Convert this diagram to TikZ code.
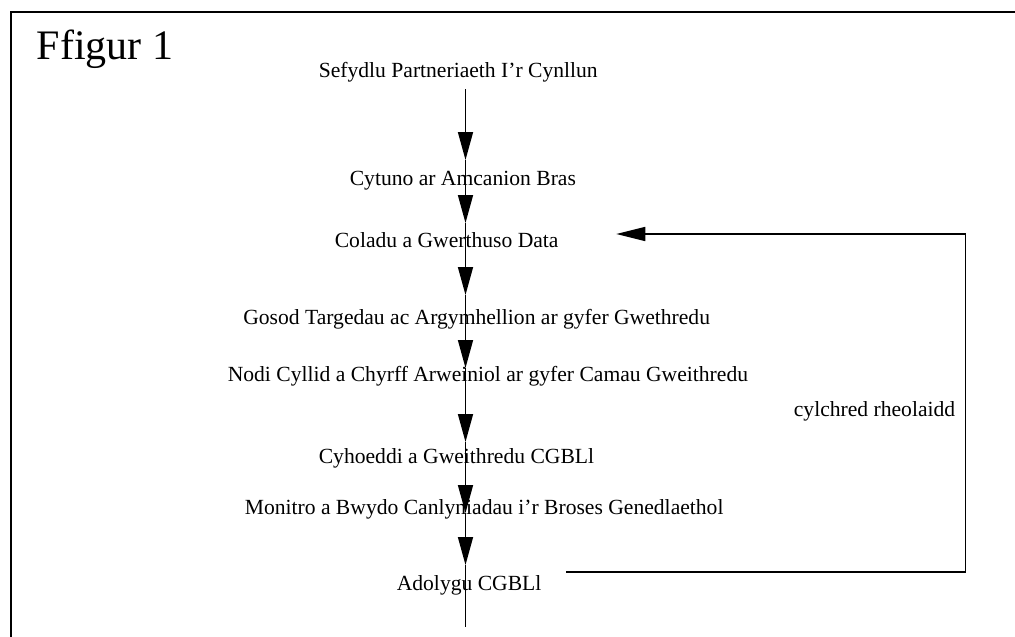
\documentclass[tikz,border=0pt]{standalone}
\usepackage{fontspec}
\setmainfont{Liberation Serif}
\usetikzlibrary{arrows.meta,calc}

\begin{document}
\begin{tikzpicture}[x=1pt,y=-1pt,line width=1.6pt,
    stage/.style={anchor=base west,inner sep=0pt,font=\fontsize{21.6pt}{26pt}\selectfont},
    flow/.style={-{Triangle[length=28pt,width=15pt]}}]
  \useasboundingbox (0,0) rectangle (1015,637);
  \draw (11,637) -- (11,11.7) -- (1015,11.7);
  \node[stage,font=\fontsize{42pt}{48pt}\selectfont] (title) at (36,59) {Ffigur 1};

  \node[stage] (s1) at (318,77)   {Sefydlu Partneriaeth I'r Cynllun};
  \node[stage] (s2) at (349,185)  {Cytuno ar Amcanion Bras};
  \node[stage] (s3) at (334,247)  {Coladu a Gwerthuso Data};
  \node[stage] (s4) at (242.5,324) {Gosod Targedau ac Argymhellion ar gyfer Gwethredu};
  \node[stage] (s5) at (227,381)  {Nodi Cyllid a Chyrff Arweiniol ar gyfer Camau Gweithredu};
  \node[stage] (s6) at (318,463)  {Cyhoeddi a Gweithredu CGBLl};
  \node[stage] (s7) at (244,514)  {Monitro a Bwydo Canlyniadau i'r Broses Genedlaethol};
  \node[stage] (s8) at (396,590)  {Adolygu CGBLl};
  \node[stage,anchor=base east] (rheolaidd) at (956,416) {cylchred rheolaidd};

  \coordinate (axis) at (465.5,0);
  \foreach \a/\p/\b/\d in {s1/12/s2/-25, s2/-25/s3/-24, s3/-24/s4/-29, s4/-29/s5/-13,
                           s5/-13/s6/-21, s6/-21/s7/-1, s7/-1/s8/-25}
    \draw[flow] ($(\a.base -| axis)+(0,\p)$) -- ($(\b.base -| axis)+(0,\d)$);
  \draw ($(s8.base -| axis)+(0,-25)$) -- ($(s8.base -| axis)+(0,37)$);

  % feedback loop
  \coordinate (corner) at (965.5,572);
  \draw[-{Triangle[length=29pt,width=14pt]}] ($(s8.base east)+(24,-18)$) -- (corner)
    |- ($(s3.base east)+(57,-13)$);
\end{tikzpicture}
\end{document}
